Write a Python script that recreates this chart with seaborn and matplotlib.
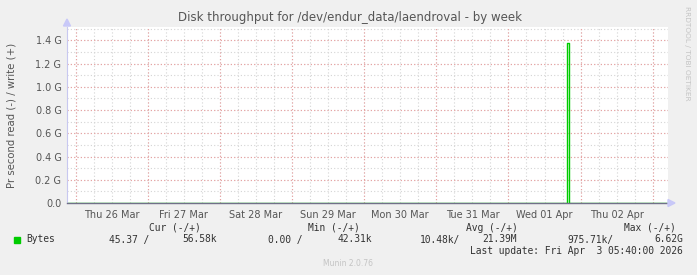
import matplotlib
matplotlib.use("Agg")
import matplotlib.pyplot as plt
import pandas as pd
import seaborn as sns

# ---- data ----
sample_times = ["2026-03-25 21:00", "2026-04-01 19:30", "2026-04-01 20:00", "2026-04-03 05:40"]
write_bytes = [56.0e3, 1.38e9, 50.0e3, 56.58e3]
day_labels = ["Thu 26 Mar", "Fri 27 Mar", "Sat 28 Mar", "Sun 29 Mar",
              "Mon 30 Mar", "Tue 31 Mar", "Wed 01 Apr", "Thu 02 Apr"]
day_starts = ["2026-03-26", "2026-03-27", "2026-03-28", "2026-03-29",
              "2026-03-30", "2026-03-31", "2026-04-01", "2026-04-02"]
y_ticks = [0.0, 0.2e9, 0.4e9, 0.6e9, 0.8e9, 1.0e9, 1.2e9, 1.4e9]
y_tick_labels = ["0.0", "0.2 G", "0.4 G", "0.6 G", "0.8 G", "1.0 G", "1.2 G", "1.4 G"]
legend_headers = ["Cur (-/+)", "Min (-/+)", "Avg (-/+)", "Max (-/+)"]
legend_values = ["45.37 /", "56.58k", "0.00 /", "42.31k", "10.48k/", "21.39M", "975.71k/", "6.62G"]
series_name = "Bytes"
title = "Disk throughput for /dev/endur_data/laendroval - by week"
ylabel = "Pr second read (-) / write (+)"
last_update = "Last update: Fri Apr  3 05:40:00 2026"
footer = "Munin 2.0.76"
side_text = "RRDTOOL / TOBI OETIKER"

df = pd.DataFrame({"time": pd.to_datetime(sample_times), "write": write_bytes})

W, H = 697, 275
fig = plt.figure(figsize=(W / 100, H / 100), dpi=100, facecolor="#f0f0f0")
x0, x1, y0, y1 = 67, 668, 27, 203
ax = fig.add_axes([x0 / W, 1 - y1 / H, (x1 - x0) / W, (y1 - y0) / H])
ax.set_facecolor("white")

green = "#00cc00"
sns.lineplot(data=df, x="time", y="write", ax=ax, color=green, linewidth=1.0,
             drawstyle="steps-post", legend=False)
ax.set_xlabel("")
ax.set_ylabel("")

xmin = pd.Timestamp("2026-03-25 21:07")
xmax = pd.Timestamp("2026-04-03 05:05")
ax.set_xlim(xmin, xmax)
ax.set_ylim(0, 1.515e9)

# grid
starts = pd.to_datetime(day_starts)
minor_times = pd.date_range("2026-03-26 00:00", "2026-04-03 00:00", freq="6h")
for t in minor_times:
    if xmin <= t <= xmax:
        ax.axvline(t, color="#d4d4d4", linestyle=(0, (1, 2)), linewidth=0.8, zorder=0)
for t in list(starts) + [pd.Timestamp("2026-04-03")]:
    ax.axvline(t, color="#eaa0a0", linestyle=(0, (1, 2)), linewidth=0.8, zorder=0.5)
minor_y = [0.1e9 * i for i in range(1, 16)]
for v in minor_y:
    ax.axhline(v, color="#d4d4d4", linestyle=(0, (1, 2)), linewidth=0.8, zorder=0)
for v in y_ticks[1:]:
    ax.axhline(v, color="#eaa0a0", linestyle=(0, (1, 2)), linewidth=0.8, zorder=0.5)

# ticks
ax.set_yticks(y_ticks)
ax.set_yticklabels(y_tick_labels)
noon = starts + pd.Timedelta(hours=12)
ax.set_xticks(noon)
ax.set_xticklabels(day_labels)
ax.tick_params(axis="both", length=0, labelsize=7, colors="#555555", pad=4)
ax.tick_params(axis="x", pad=5)
for s in ["top", "right"]:
    ax.spines[s].set_visible(False)
ax.spines["left"].set_color("#c8c8f0")
ax.spines["left"].set_linewidth(0.8)
ax.spines["bottom"].set_color("#707088")
ax.spines["bottom"].set_linewidth(1.0)
ax.spines["bottom"].set_zorder(5)

# arrows
fig.patches.append(plt.Polygon([[(x0 - 3.5) / W, 1 - 26 / H], [(x0 + 3.5) / W, 1 - 26 / H],
                                [x0 / W, 1 - 19 / H]], closed=True, transform=fig.transFigure,
                               color="#c8c8f8", zorder=10))
fig.patches.append(plt.Polygon([[668 / W, 1 - 199.5 / H], [668 / W, 1 - 206.5 / H],
                                [675 / W, 1 - 203 / H]], closed=True, transform=fig.transFigure,
                               color="#c8c8f8", zorder=10))

def ft(x, y, s, **kw):
    fig.text(x / W, 1 - y / H, s, **kw)

ft(350, 18, title, ha="center", va="center", fontsize=8.5, color="#555555")
ft(12, 115, ylabel, ha="center", va="center", rotation=90, fontsize=7.3, color="#555555")
ft(687, 53, side_text, ha="center", va="center", rotation=270, fontsize=5.3, color="#c4c4c4")

mono = dict(family="DejaVu Sans Mono", fontsize=6.9, color="#333333", va="center")
for txt, xr in zip(legend_headers, [201, 360, 518, 676]):
    ft(xr, 228, txt, ha="right", **mono)
fig.patches.append(plt.Rectangle((14 / W, 1 - 242.5 / H), 6 / W, 6 / H,
                                 transform=fig.transFigure, color=green))
ft(26.5, 239.5, series_name, ha="left", **mono)
for txt, xr in zip(legend_values, [149, 216.7, 303, 371.7, 460, 517, 613, 682.7]):
    ft(xr, 239.5, txt, ha="right", **mono)
ft(682.7, 251, last_update, ha="right", **mono)
ft(348, 264, footer, ha="center", va="center", fontsize=5.5, color="#c4c4c4")

fig.savefig("out.png", dpi=100, facecolor=fig.get_facecolor())
